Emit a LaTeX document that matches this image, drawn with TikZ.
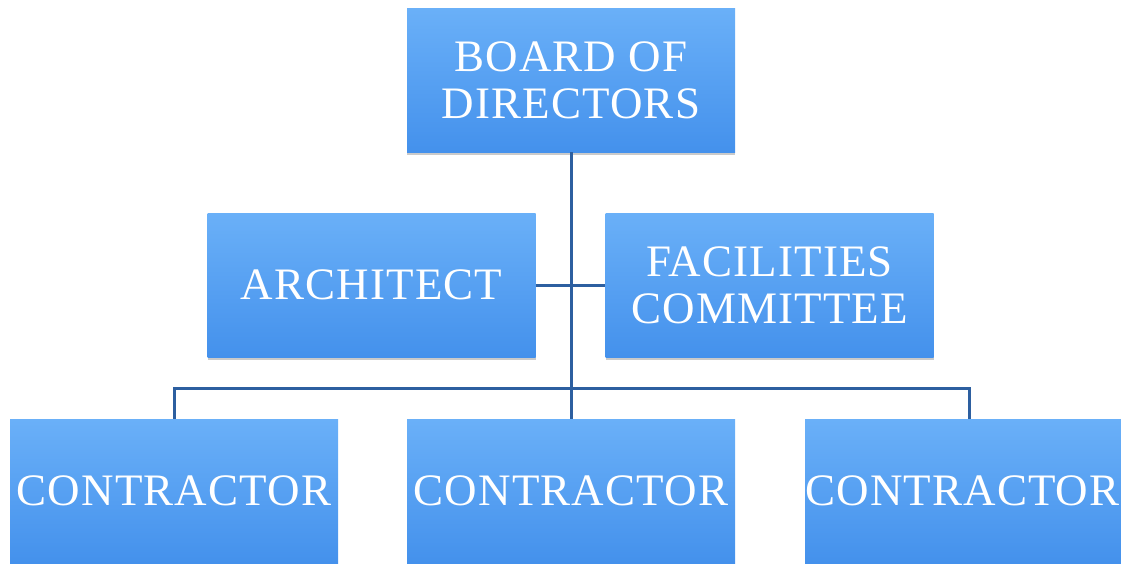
\documentclass[tikz,border=0pt]{standalone}
\usepackage{fontspec}
\setmainfont{Liberation Serif}
\newfontfamily\boxfont[LetterSpace=2.5]{Liberation Serif}
\usetikzlibrary{shadows}
\definecolor{boxtop}{RGB}{106,176,248}
\definecolor{boxbot}{RGB}{68,145,236}
\definecolor{linecol}{RGB}{45,95,160}
\begin{document}
\begin{tikzpicture}[x=1pt,y=-1pt,
  orgbox/.style={rectangle, minimum width=328pt, minimum height=144pt, inner sep=0pt,
    top color=boxtop, bottom color=boxbot, draw=none, text=white, align=center,
    font=\boxfont\fontsize{45}{47}\selectfont,
    drop shadow={shadow xshift=0pt, shadow yshift=-3pt, opacity=0.35, fill=black!60}},
  conn/.style={draw=linecol, line width=3pt}]
\useasboundingbox (0,0) rectangle (1121,563);
\clip (0,0) rectangle (1121,563);
\node[orgbox] (bod) at (571,80) {BOARD OF\\DIRECTORS};
\node[orgbox] (arch) at (371.5,285) {ARCHITECT};
\node[orgbox] (fac) at (769.5,285) {FACILITIES\\COMMITTEE};
\node[orgbox] (c1) at (174,491) {CONTRACTOR};
\node[orgbox] (c2) at (571,491) {CONTRACTOR};
\node[orgbox] (c3) at (969,491) {CONTRACTOR\hspace*{13pt}};
\coordinate (bus) at (571,388);
\draw[conn] (bod.south) -- (c2.north);
\draw[conn] (arch.east) -- (fac.west);
\draw[conn] (c1.north) |- (bus) -| (c3.north);
\end{tikzpicture}
\end{document}
